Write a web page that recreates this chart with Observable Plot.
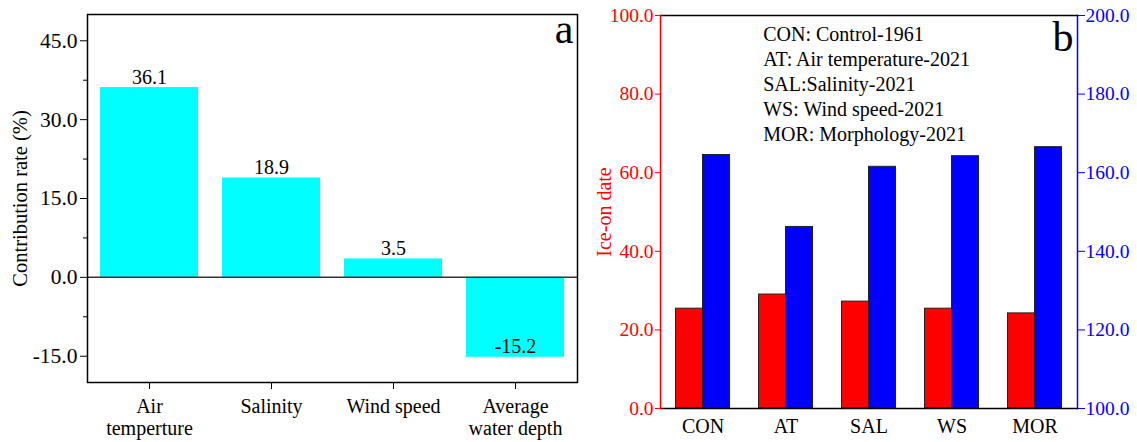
<!DOCTYPE html>
<html>
<head>
<meta charset="utf-8">
<script src="https://cdn.jsdelivr.net/npm/d3@7"></script>
<script src="https://cdn.jsdelivr.net/npm/@observablehq/plot@0.6"></script>
<style>
  html, body { margin: 0; padding: 0; background: #fff; }
  #wrap { position: relative; width: 1137px; height: 442px; overflow: hidden; background: #fff; }
  #left, #right { position: absolute; top: 0; }
  #left { left: 0; }
  #right { left: 580px; }
</style>
</head>
<body>
<div id="wrap"><div id="left"></div><div id="right"></div></div>
<script>
// ---- Panel a data ----
const factorKeys = ["Air temperture", "Salinity", "Wind speed", "Average water depth"];
const factorLabels = ["Air\ntemperture", "Salinity", "Wind speed", "Average\nwater depth"];
const contribution = [36.1, 18.9, 3.5, -15.2];
const contribTicks = [-15, 0, 15, 30, 45];
const contribMinorTicks = [-7.5, 7.5, 22.5, 37.5];

// ---- Panel b data ----
const scenarios = ["CON", "AT", "SAL", "WS", "MOR"];
const iceOnDate = [25.4, 29.0, 27.2, 25.4, 24.2];      // left (red) axis
const blueSeries = [164.5, 146.2, 161.5, 164.2, 166.5]; // right (blue) axis
const leftTicksB = [0, 20, 40, 60, 80, 100];
const rightTicksB = [100, 120, 140, 160, 180, 200];
const legendLines = ["CON: Control-1961", "AT: Air temperature-2021", "SAL:Salinity-2021", "WS: Wind speed-2021", "MOR: Morphology-2021"];

const FONT = "'Liberation Serif', 'Times New Roman', Times, serif";

const dataA = factorKeys.map((k, i) => ({k, label: factorLabels[i], v: contribution[i]}));
const labelOf = new Map(dataA.map(d => [d.k, d.label]));

const plotA = Plot.plot({
  width: 580, height: 442,
  marginLeft: 87, marginRight: 3, marginTop: 14, marginBottom: 60,
  style: {fontFamily: FONT, fontSize: "20px", color: "#000", background: "transparent"},
  x: {domain: factorKeys, paddingInner: 0.2, paddingOuter: 0.1},
  y: {domain: [-20, 50]},
  marks: [
    Plot.barY(dataA, {x: "k", y: "v", fill: "#00FFFF"}),
    Plot.ruleY([0], {stroke: "#333", strokeWidth: 1.5}),
    Plot.frame({stroke: "#000", strokeWidth: 1.5}),
    Plot.axisY(contribTicks, {tickSize: 7, tickPadding: 3, tickFormat: d => d.toFixed(1), label: null, stroke: "#000", fontSize: 21.5}),
    Plot.axisY(contribMinorTicks, {tickSize: 4, tickFormat: () => "", label: null, stroke: "#000"}),
    Plot.axisX({tickSize: 7, tickPadding: 8, tickFormat: k => labelOf.get(k), label: null, stroke: "#000", lineHeight: 1.1, fontSize: 20}),
    Plot.text(dataA, {x: "k", y: "v", text: d => d.v.toFixed(1), dy: -4, lineAnchor: "bottom", fontSize: 20, fill: "#000"}),
    Plot.text(["Contribution rate (%)"], {frameAnchor: "left", rotate: -90, dx: -75, lineAnchor: "top", textAnchor: "middle", fontSize: 20.5, fill: "#000"}),
    Plot.text(["a"], {frameAnchor: "top-right", textAnchor: "end", dx: -4, dy: 14.6, lineAnchor: "middle", fontSize: 42, fill: "#000"})
  ]
});
document.getElementById("left").appendChild(plotA);

const dataB = scenarios.map((c, i) => ({c, red: iceOnDate[i], blue: blueSeries[i]}));

const plotB = Plot.plot({
  width: 557, height: 442,
  marginLeft: 80, marginRight: 60, marginTop: 15, marginBottom: 34,
  style: {fontFamily: FONT, fontSize: "20px", color: "#000", background: "transparent"},
  x: {domain: scenarios, paddingInner: 0.676, paddingOuter: 0.338},
  y: {domain: [0, 100]},
  marks: [
    Plot.barY(dataB, {x: "c", y: "red", fill: "#FF0000", stroke: "#222", strokeWidth: 1, dx: -13.5}),
    Plot.barY(dataB, {x: "c", y: d => d.blue - 100, fill: "#0000FF", stroke: "#222", strokeWidth: 1, dx: 13.5}),
    Plot.frame({anchor: "top", stroke: "#000", strokeWidth: 1.5}),
    Plot.frame({anchor: "bottom", stroke: "#000", strokeWidth: 1.5}),
    Plot.frame({anchor: "left", stroke: "#FF0000", strokeWidth: 1.5}),
    Plot.frame({anchor: "right", stroke: "#0000FF", strokeWidth: 1.5}),
    Plot.axisY(leftTicksB, {anchor: "left", tickSize: 5, tickPadding: 2, tickFormat: d => d.toFixed(1), label: null, stroke: "#FF0000", fill: "#FF0000", color: "#FF0000", fontSize: 19.5}),
    Plot.axisY(rightTicksB.map(t => t - 100), {anchor: "right", tickSize: 7, tickPadding: 1, tickFormat: d => (d + 100).toFixed(1), label: null, stroke: "#0000FF", fill: "#0000FF", color: "#0000FF", fontSize: 19.5}),
    Plot.axisX({tickSize: 0, tickPadding: 10, label: null, fill: "#000", fontSize: 20}),
    Plot.text([legendLines.join("\n")], {frameAnchor: "top-left", textAnchor: "start", lineAnchor: "top", dx: 102.7, dy: 7.5, lineHeight: 1.25, fontSize: 20, fill: "#000"}),
    Plot.text(["b"], {frameAnchor: "top-right", textAnchor: "end", dx: -4, dy: 21.6, lineAnchor: "middle", fontSize: 42, fill: "#000"}),
    Plot.text(["Ice-on date"], {frameAnchor: "left", rotate: -90, dx: -64, lineAnchor: "top", textAnchor: "middle", fontSize: 20, fill: "#FF0000"})
  ]
});
document.getElementById("right").appendChild(plotB);
</script>
</body>
</html>
